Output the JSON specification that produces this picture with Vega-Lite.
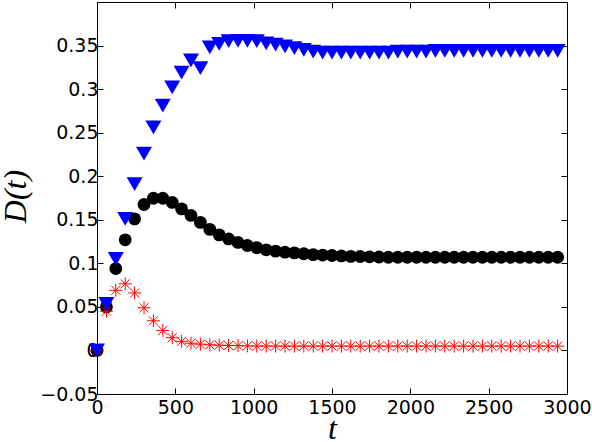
{
  "$schema": "https://vega.github.io/schema/vega-lite/v6.json",
  "autosize": "none",
  "width": 470,
  "height": 392,
  "padding": {"left": 97, "top": 2, "right": 25, "bottom": 48},
  "background": "white",
  "config": {
    "view": {"stroke": "black", "strokeWidth": 1},
    "axis": {
      "grid": false,
      "domainColor": "black",
      "tickColor": "black",
      "labelColor": "black",
      "labelFont": "DejaVu Sans",
      "labelFontSize": 19,
      "titleColor": "black",
      "titleFont": "Liberation Serif",
      "titleFontStyle": "italic",
      "titleFontWeight": "normal",
      "titleFontSize": 32,
      "tickSize": -6,
      "labelOverlap": false,
      "labelFlush": false
    }
  },
  "data": {
    "values": [
      {"t": 0, "D": 0, "s": "black"},
      {"t": 60, "D": 0.05, "s": "black"},
      {"t": 120, "D": 0.094, "s": "black"},
      {"t": 180, "D": 0.127, "s": "black"},
      {"t": 240, "D": 0.151, "s": "black"},
      {"t": 300, "D": 0.1675, "s": "black"},
      {"t": 360, "D": 0.1747, "s": "black"},
      {"t": 420, "D": 0.1747, "s": "black"},
      {"t": 480, "D": 0.17, "s": "black"},
      {"t": 540, "D": 0.1625, "s": "black"},
      {"t": 600, "D": 0.155, "s": "black"},
      {"t": 660, "D": 0.147, "s": "black"},
      {"t": 720, "D": 0.139, "s": "black"},
      {"t": 780, "D": 0.1327, "s": "black"},
      {"t": 840, "D": 0.128, "s": "black"},
      {"t": 900, "D": 0.124, "s": "black"},
      {"t": 960, "D": 0.1205, "s": "black"},
      {"t": 1020, "D": 0.118, "s": "black"},
      {"t": 1080, "D": 0.1155, "s": "black"},
      {"t": 1140, "D": 0.114, "s": "black"},
      {"t": 1200, "D": 0.1128, "s": "black"},
      {"t": 1260, "D": 0.112, "s": "black"},
      {"t": 1320, "D": 0.111, "s": "black"},
      {"t": 1380, "D": 0.11, "s": "black"},
      {"t": 1440, "D": 0.1095, "s": "black"},
      {"t": 1500, "D": 0.109, "s": "black"},
      {"t": 1560, "D": 0.1085, "s": "black"},
      {"t": 1620, "D": 0.108, "s": "black"},
      {"t": 1680, "D": 0.1078, "s": "black"},
      {"t": 1740, "D": 0.1075, "s": "black"},
      {"t": 1800, "D": 0.1073, "s": "black"},
      {"t": 1860, "D": 0.107, "s": "black"},
      {"t": 1920, "D": 0.107, "s": "black"},
      {"t": 1980, "D": 0.107, "s": "black"},
      {"t": 2040, "D": 0.107, "s": "black"},
      {"t": 2100, "D": 0.107, "s": "black"},
      {"t": 2160, "D": 0.107, "s": "black"},
      {"t": 2220, "D": 0.107, "s": "black"},
      {"t": 2280, "D": 0.107, "s": "black"},
      {"t": 2340, "D": 0.107, "s": "black"},
      {"t": 2400, "D": 0.107, "s": "black"},
      {"t": 2460, "D": 0.107, "s": "black"},
      {"t": 2520, "D": 0.107, "s": "black"},
      {"t": 2580, "D": 0.107, "s": "black"},
      {"t": 2640, "D": 0.107, "s": "black"},
      {"t": 2700, "D": 0.107, "s": "black"},
      {"t": 2760, "D": 0.107, "s": "black"},
      {"t": 2820, "D": 0.107, "s": "black"},
      {"t": 2880, "D": 0.107, "s": "black"},
      {"t": 2940, "D": 0.107, "s": "black"},
      {"t": 0, "D": 0, "s": "red"},
      {"t": 60, "D": 0.045, "s": "red"},
      {"t": 120, "D": 0.069, "s": "red"},
      {"t": 180, "D": 0.0765, "s": "red"},
      {"t": 240, "D": 0.066, "s": "red"},
      {"t": 300, "D": 0.049, "s": "red"},
      {"t": 360, "D": 0.034, "s": "red"},
      {"t": 420, "D": 0.023, "s": "red"},
      {"t": 480, "D": 0.0146, "s": "red"},
      {"t": 540, "D": 0.0105, "s": "red"},
      {"t": 600, "D": 0.0083, "s": "red"},
      {"t": 660, "D": 0.0072, "s": "red"},
      {"t": 720, "D": 0.0065, "s": "red"},
      {"t": 780, "D": 0.006, "s": "red"},
      {"t": 840, "D": 0.0057, "s": "red"},
      {"t": 900, "D": 0.0055, "s": "red"},
      {"t": 960, "D": 0.0053, "s": "red"},
      {"t": 1020, "D": 0.005, "s": "red"},
      {"t": 1080, "D": 0.005, "s": "red"},
      {"t": 1140, "D": 0.005, "s": "red"},
      {"t": 1200, "D": 0.005, "s": "red"},
      {"t": 1260, "D": 0.005, "s": "red"},
      {"t": 1320, "D": 0.005, "s": "red"},
      {"t": 1380, "D": 0.005, "s": "red"},
      {"t": 1440, "D": 0.005, "s": "red"},
      {"t": 1500, "D": 0.005, "s": "red"},
      {"t": 1560, "D": 0.005, "s": "red"},
      {"t": 1620, "D": 0.005, "s": "red"},
      {"t": 1680, "D": 0.005, "s": "red"},
      {"t": 1740, "D": 0.005, "s": "red"},
      {"t": 1800, "D": 0.005, "s": "red"},
      {"t": 1860, "D": 0.005, "s": "red"},
      {"t": 1920, "D": 0.005, "s": "red"},
      {"t": 1980, "D": 0.005, "s": "red"},
      {"t": 2040, "D": 0.005, "s": "red"},
      {"t": 2100, "D": 0.005, "s": "red"},
      {"t": 2160, "D": 0.005, "s": "red"},
      {"t": 2220, "D": 0.005, "s": "red"},
      {"t": 2280, "D": 0.005, "s": "red"},
      {"t": 2340, "D": 0.005, "s": "red"},
      {"t": 2400, "D": 0.005, "s": "red"},
      {"t": 2460, "D": 0.005, "s": "red"},
      {"t": 2520, "D": 0.005, "s": "red"},
      {"t": 2580, "D": 0.005, "s": "red"},
      {"t": 2640, "D": 0.005, "s": "red"},
      {"t": 2700, "D": 0.005, "s": "red"},
      {"t": 2760, "D": 0.005, "s": "red"},
      {"t": 2820, "D": 0.005, "s": "red"},
      {"t": 2880, "D": 0.005, "s": "red"},
      {"t": 2940, "D": 0.005, "s": "red"},
      {"t": 0, "D": 0, "s": "blue"},
      {"t": 60, "D": 0.0535, "s": "blue"},
      {"t": 120, "D": 0.105, "s": "blue"},
      {"t": 180, "D": 0.151, "s": "blue"},
      {"t": 240, "D": 0.191, "s": "blue"},
      {"t": 300, "D": 0.226, "s": "blue"},
      {"t": 360, "D": 0.256, "s": "blue"},
      {"t": 420, "D": 0.281, "s": "blue"},
      {"t": 480, "D": 0.302, "s": "blue"},
      {"t": 540, "D": 0.319, "s": "blue"},
      {"t": 600, "D": 0.333, "s": "blue"},
      {"t": 660, "D": 0.324, "s": "blue"},
      {"t": 720, "D": 0.348, "s": "blue"},
      {"t": 780, "D": 0.352, "s": "blue"},
      {"t": 840, "D": 0.355, "s": "blue"},
      {"t": 900, "D": 0.3555, "s": "blue"},
      {"t": 960, "D": 0.3555, "s": "blue"},
      {"t": 1020, "D": 0.355, "s": "blue"},
      {"t": 1080, "D": 0.3525, "s": "blue"},
      {"t": 1140, "D": 0.351, "s": "blue"},
      {"t": 1200, "D": 0.349, "s": "blue"},
      {"t": 1260, "D": 0.347, "s": "blue"},
      {"t": 1320, "D": 0.345, "s": "blue"},
      {"t": 1380, "D": 0.343, "s": "blue"},
      {"t": 1440, "D": 0.342, "s": "blue"},
      {"t": 1500, "D": 0.342, "s": "blue"},
      {"t": 1560, "D": 0.342, "s": "blue"},
      {"t": 1620, "D": 0.342, "s": "blue"},
      {"t": 1680, "D": 0.342, "s": "blue"},
      {"t": 1740, "D": 0.342, "s": "blue"},
      {"t": 1800, "D": 0.342, "s": "blue"},
      {"t": 1860, "D": 0.342, "s": "blue"},
      {"t": 1920, "D": 0.343, "s": "blue"},
      {"t": 1980, "D": 0.343, "s": "blue"},
      {"t": 2040, "D": 0.343, "s": "blue"},
      {"t": 2100, "D": 0.343, "s": "blue"},
      {"t": 2160, "D": 0.344, "s": "blue"},
      {"t": 2220, "D": 0.344, "s": "blue"},
      {"t": 2280, "D": 0.344, "s": "blue"},
      {"t": 2340, "D": 0.344, "s": "blue"},
      {"t": 2400, "D": 0.344, "s": "blue"},
      {"t": 2460, "D": 0.344, "s": "blue"},
      {"t": 2520, "D": 0.344, "s": "blue"},
      {"t": 2580, "D": 0.344, "s": "blue"},
      {"t": 2640, "D": 0.344, "s": "blue"},
      {"t": 2700, "D": 0.344, "s": "blue"},
      {"t": 2760, "D": 0.344, "s": "blue"},
      {"t": 2820, "D": 0.344, "s": "blue"},
      {"t": 2880, "D": 0.344, "s": "blue"},
      {"t": 2940, "D": 0.344, "s": "blue"}
    ]
  },
  "layer": [
    {
      "encoding": {
        "x": {
          "field": "t",
          "type": "quantitative",
          "scale": {"domain": [0, 3000], "nice": false, "zero": false},
          "axis": {
            "title": "t",
            "values": [0, 500, 1000, 1500, 2000, 2500, 3000],
            "format": "d",
            "labelPadding": 10,
            "titleY": 44,
            "titleBaseline": "alphabetic"
          }
        },
        "y": {
          "field": "D",
          "type": "quantitative",
          "scale": {"domain": [-0.05, 0.4], "nice": false, "zero": false},
          "axis": {
            "title": "D(t)",
            "values": [-0.05, 0, 0.05, 0.1, 0.15, 0.2, 0.25, 0.3, 0.35],
            "format": ".2~f",
            "labelPadding": 5,
            "titleX": -72,
            "titleY": 194,
            "titleBaseline": "alphabetic"
          }
        }
      },
      "layer": [
        {
          "transform": [{"filter": "datum.s === 'black'"}],
          "mark": {"type": "point", "shape": "circle", "filled": true, "color": "#000000", "opacity": 1, "size": 165}
        },
        {
          "transform": [{"filter": "datum.s === 'red'"}],
          "mark": {"type": "point", "shape": "M-1,0L1,0M0,-1L0,1M-0.7,-0.7L0.7,0.7M-0.7,0.7L0.7,-0.7", "filled": false, "color": "#ff0000", "opacity": 1, "strokeWidth": 1, "size": 169}
        },
        {
          "transform": [{"filter": "datum.s === 'blue'"}],
          "mark": {"type": "point", "shape": "M-1,-0.86L1,-0.86L0,0.86Z", "filled": true, "color": "#0000ff", "opacity": 1, "size": 256}
        }
      ]
    },
    {
      "mark": {"type": "point", "opacity": 0},
      "encoding": {
        "x": {
          "field": "t",
          "type": "quantitative",
          "axis": {"orient": "top", "title": null, "labels": false, "values": [0, 500, 1000, 1500, 2000, 2500, 3000]}
        },
        "y": {
          "field": "D",
          "type": "quantitative",
          "axis": {"orient": "right", "title": null, "labels": false, "values": [-0.05, 0, 0.05, 0.1, 0.15, 0.2, 0.25, 0.3, 0.35]}
        }
      }
    }
  ],
  "resolve": {"axis": {"x": "independent", "y": "independent"}}
}
